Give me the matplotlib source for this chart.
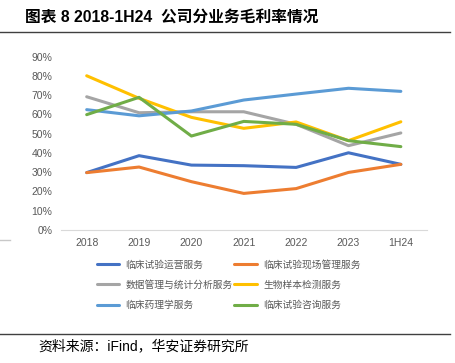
import matplotlib
matplotlib.use('Agg')
import matplotlib.pyplot as plt
from matplotlib.lines import Line2D

plt.rcParams['font.family'] = ['Liberation Sans', 'Noto Sans CJK SC', 'DejaVu Sans']

# data
periods = ['2018', '2019', '2020', '2021', '2022', '2023', '1H24']
names = ['临床试验运营服务', '临床试验现场管理服务', '数据管理与统计分析服务',
         '生物样本检测服务', '临床药理学服务', '临床试验咨询服务']
ops = [29.8, 38.6, 33.7, 33.4, 32.5, 40.1, 34.1]
site_mgmt = [29.8, 32.7, 25.1, 19.0, 21.5, 29.9, 34.1]
data_stats = [69.2, 60.9, 61.4, 61.4, 54.9, 43.8, 50.4]
biosample = [80.1, 68.4, 58.5, 52.8, 56.1, 46.4, 56.2]
pharmacology = [62.5, 59.3, 61.8, 67.5, 70.6, 73.6, 72.0]
consulting = [59.9, 68.9, 48.8, 56.4, 54.9, 46.4, 43.3]
colors = ['#4472C4', '#ED7D31', '#A5A5A5', '#FFC000', '#5B9BD5', '#70AD47']

series = [ops, site_mgmt, data_stats, biosample, pharmacology, consulting]

fig = plt.figure(figsize=(4.55, 3.63), dpi=100)
ax = fig.add_axes([0.133, 0.3664, 0.8055, 0.4774])

x = list(range(len(periods)))
lines = []
for vals, name, c in zip(series, names, colors):
    ln, = ax.plot(x, vals, color=c, lw=2.2, label=name, solid_capstyle='round')
    lines.append(ln)

ax.set_xlim(-0.5, len(periods) - 0.5)
ax.set_ylim(0, 90)
ax.set_yticks(range(0, 91, 10))
ax.set_yticklabels([f'{v}%' for v in range(0, 91, 10)])
ax.set_xticks(x)
ax.set_xticklabels(periods)
for s in ['top', 'right', 'left']:
    ax.spines[s].set_visible(False)
ax.spines['bottom'].set_color('#D9D9D9')
ax.spines['bottom'].set_linewidth(0.8)
ax.tick_params(axis='both', length=0, labelsize=7.5, colors='#595959', pad=6)

order = [0, 2, 4, 1, 3, 5]
leg = fig.legend([lines[i] for i in order], [names[i] for i in order],
                 ncol=2, loc='upper left', bbox_to_anchor=(0.213, 0.285),
                 frameon=False, fontsize=7, handlelength=2.3, handletextpad=0.65,
                 columnspacing=0.15, labelspacing=1.05, borderaxespad=0, borderpad=0)
for t in leg.get_texts():
    t.set_color('#595959')

fig.text(0.055, 0.953, '图表 8 2018-1H24  公司分业务毛利率情况', fontsize=11.3,
         fontweight='bold', va='center', ha='left', color='black')
fig.add_artist(Line2D([0, 0.99], [0.913, 0.913], color='#404040', lw=1))
fig.add_artist(Line2D([0, 0.99], [0.08, 0.08], color='#404040', lw=1))
fig.add_artist(Line2D([0, 0.022], [0.339, 0.339], color='#C8C8C8', lw=1))
fig.text(0.085, 0.045, '资料来源：iFind，华安证券研究所', fontsize=10,
         va='center', ha='left', color='black')

fig.savefig('out.png', dpi=100)
